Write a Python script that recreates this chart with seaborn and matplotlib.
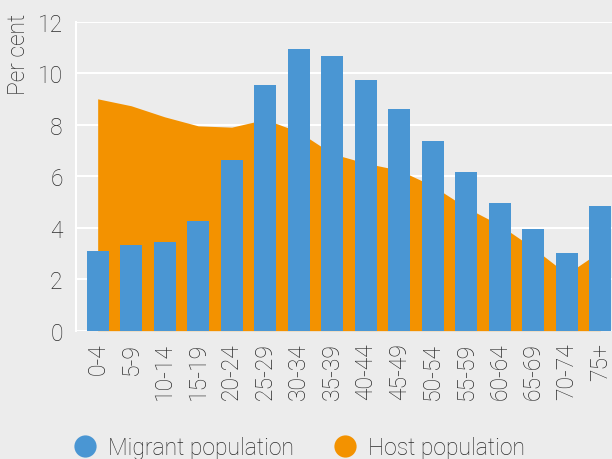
import matplotlib
matplotlib.use("Agg")
import matplotlib.pyplot as plt
from matplotlib.lines import Line2D
import seaborn as sns
import pandas as pd

categories = ["0-4", "5-9", "10-14", "15-19", "20-24", "25-29", "30-34", "35-39",
              "40-44", "45-49", "50-54", "55-59", "60-64", "65-69", "70-74", "75+"]
migrant = [3.08, 3.33, 3.43, 4.26, 6.64, 9.55, 10.95, 10.68,
           9.75, 8.62, 7.37, 6.15, 4.94, 3.95, 3.02, 4.84]
host = [9.0, 8.73, 8.3, 7.95, 7.9, 8.2, 7.72, 6.87,
        6.5, 6.23, 5.62, 4.78, 4.1, 3.21, 2.2, 3.08]
yticks = [0, 2, 4, 6, 8, 10, 12]

BLUE = "#4a96d3"
ORANGE = "#f39200"
BG = "#ececec"
TXT = "#2b2b2b"

sns.set_theme(style="darkgrid")
plt.rcParams["font.family"] = ["Roboto", "DejaVu Sans"]
plt.rcParams["font.weight"] = "light"

df = pd.DataFrame({"age": categories, "migrant": migrant, "host": host})

fig = plt.figure(figsize=(6.12, 4.60), dpi=100, facecolor=BG)
ax = fig.add_axes([0.124, 0.279, 0.876, 0.672])
ax.set_facecolor(BG)

xs = list(range(len(categories)))
ax.fill_between(xs, df["host"], 0, color=ORANGE, linewidth=0, zorder=1)
sns.barplot(data=df, x="age", y="migrant", color=BLUE, width=0.65,
            saturation=1, edgecolor="none", ax=ax, zorder=2)

ax.set_xlim(-0.65, 15.35)
ax.set_ylim(0, 12)
ax.set_yticks(yticks)
ax.set_yticklabels([str(t) for t in yticks])
ax.grid(axis="y", color="white", linewidth=1.5)
ax.grid(axis="x", visible=False)
ax.set_axisbelow(True)
for s in ["top", "right", "bottom"]:
    ax.spines[s].set_visible(False)
ax.spines["left"].set_visible(True)
ax.spines["left"].set_color("white")
ax.spines["left"].set_linewidth(1.5)
ax.axhline(0, color="white", linewidth=1.5, zorder=0)

FS = 16.5
ax.tick_params(axis="y", length=0, pad=9.5, labelsize=FS, labelcolor=TXT)
ax.tick_params(axis="x", length=0, pad=8, labelsize=FS, labelcolor=TXT, rotation=90)
ax.set_xlabel("")
ax.set_ylabel("")
for lab in ax.get_xticklabels() + ax.get_yticklabels():
    lab.set_fontweight("light")

fig.text(0.030, 0.970, "Per cent", rotation=90, va="top", ha="center",
         fontsize=FS, color=TXT, fontweight="light")

handles = [Line2D([0], [0], marker="o", linestyle="", markersize=16,
                  markerfacecolor=BLUE, markeredgecolor="none"),
           Line2D([0], [0], marker="o", linestyle="", markersize=16,
                  markerfacecolor=ORANGE, markeredgecolor="none")]
leg = fig.legend(handles, ["Migrant population", "Host population"],
                 loc="center left", bbox_to_anchor=(0.101, 0.026), ncol=2,
                 frameon=False, fontsize=FS, handletextpad=0.4,
                 columnspacing=1.65, borderaxespad=0, handlelength=1.2)
for t in leg.get_texts():
    t.set_color(TXT)
    t.set_fontweight("light")

fig.savefig("out.png", dpi=100, facecolor=BG)
